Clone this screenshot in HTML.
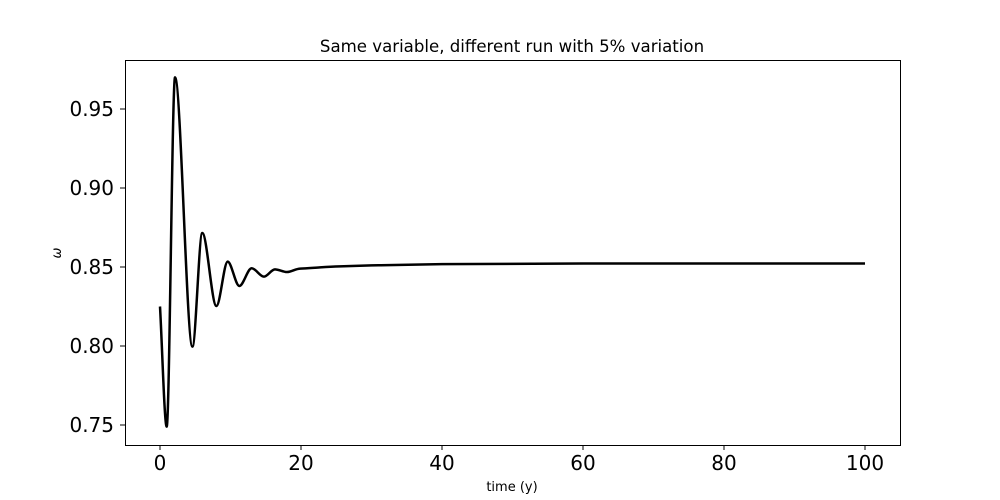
<!DOCTYPE html>
<html><head><meta charset="utf-8"><style>
body{margin:0;background:#fff}
svg{display:block;font-family:"DejaVu Sans","Liberation Sans",sans-serif}
</style></head><body>
<svg id="chart" width="1000" height="500">
<rect x="0" y="0" width="1000" height="500" fill="#fff"/>
<text x="512" y="52" text-anchor="middle" font-size="16.6">Same variable, different run with 5% variation</text>
<g id="axes"></g>
<path id="line" fill="none" stroke="#000" stroke-width="2.5" stroke-linejoin="round"/>
<rect x="125.5" y="60.5" width="775" height="385" fill="none" stroke="#000" stroke-width="1"/>
<text x="512" y="491" text-anchor="middle" font-size="13">time (y)</text>
<text x="0" y="0" transform="translate(61,253) rotate(-90)" text-anchor="middle" font-size="13" font-style="italic">ω</text>
</svg>
<script>
const times=[0,0.95,2.13,4.6,6.0,8.0,9.6,11.25,13.0,14.75,16.3,18.0,19.9,22.7,25.5,30,40,60,80,100];
const omega=[0.825,0.749,0.970,0.7996,0.8715,0.8253,0.8534,0.838,0.8492,0.8439,0.8485,0.8468,0.849,0.8498,0.8504,0.851,0.8518,0.8522,0.8522,0.8522];
const xTicks=[0,20,40,60,80,100];
const yTicks=[0.75,0.80,0.85,0.90,0.95];
const yTickLabels=["0.75","0.80","0.85","0.90","0.95"];
const NS="http://www.w3.org/2000/svg";
function xs(v){return 160+v*7.05;}
function ys(v){return 425-(v-0.75)*1580;}
const ax=document.getElementById('axes');
xTicks.forEach(t=>{
 const l=document.createElementNS(NS,'line');
 l.setAttribute('x1',xs(t));l.setAttribute('x2',xs(t));l.setAttribute('y1',445);l.setAttribute('y2',450);l.setAttribute('stroke','#000');
 
 
 ax.appendChild(l);
 const tx=document.createElementNS(NS,'text');
 tx.setAttribute('x',xs(t));tx.setAttribute('y',470);tx.setAttribute('text-anchor','middle');tx.setAttribute('font-size','20');
 tx.textContent=t;
 
 
 ax.appendChild(tx);
});
yTicks.forEach((t,i)=>{
 const l=document.createElementNS(NS,'line');
 l.setAttribute('x1',120);l.setAttribute('x2',125);l.setAttribute('y1',ys(t));l.setAttribute('y2',ys(t));l.setAttribute('stroke','#000');
 
 
 ax.appendChild(l);
 const tx=document.createElementNS(NS,'text');
 tx.setAttribute('x',114);tx.setAttribute('y',ys(t)+7);tx.setAttribute('text-anchor','end');tx.setAttribute('font-size','20');
 tx.textContent=yTickLabels[i];
 
 
 ax.appendChild(tx);
});
const P=times.map((t,i)=>[xs(t),ys(omega[i])]);
let d='M'+P[0][0]+','+P[0][1];
for(let i=0;i<P.length-1;i++){
 const p0=P[Math.max(0,i-1)],p1=P[i],p2=P[i+1],p3=P[Math.min(P.length-1,i+2)];
 const dx=p2[0]-p1[0];
 const m1=(p2[1]-p0[1])/(p2[0]-p0[0]), m2=(p3[1]-p1[1])/(p3[0]-p1[0]);
 const s1=(i>0&&i<=12)?0:m1, s2=(i<12)?0:m2;
 d+=' C'+(p1[0]+dx/3)+','+(p1[1]+s1*dx/3)+' '+(p2[0]-dx/3)+','+(p2[1]-s2*dx/3)+' '+p2[0]+','+p2[1];
}
document.getElementById('line').setAttribute('d',d);
</script>
</body></html>
